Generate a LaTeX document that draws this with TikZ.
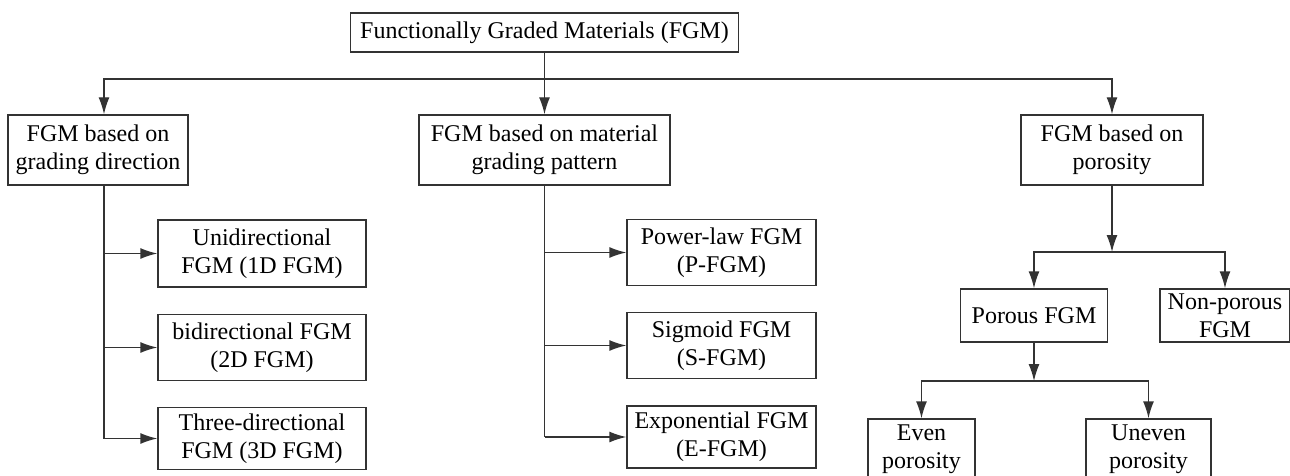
\documentclass[tikz,border=0pt]{standalone}
\usepackage{xcolor}
\usepackage{tikz}
\usepackage{fontspec}
\setmainfont{Liberation Serif}
\usetikzlibrary{arrows.meta}

\tikzset{
    fgmbox/.style={draw=black!80, line width=1.4pt, inner sep=0pt, align=center,
                   font=\fontsize{24}{28}\selectfont},
    link/.style={draw=black!80, line width=1.4pt},
    arr/.style={link, -{Latex[length=17pt,width=11pt]}}
}

\begin{document}
\begin{tikzpicture}[x=1pt, y=-1pt]
                \useasboundingbox (0,0) rectangle (1290,476);

                % Root
                \node[fgmbox, minimum width=388, minimum height=39] (fgm) at (544.5,32.5)
                    {Functionally Graded Materials (FGM)};

                % First level
                \node[fgmbox, minimum width=180, minimum height=70] (direction) at (98,150)
                    {FGM based on\\grading direction};
                \node[fgmbox, minimum width=251, minimum height=70] (pattern) at (544.5,150)
                    {FGM based on material\\grading pattern};
                \node[fgmbox, minimum width=182, minimum height=70] (porosity) at (1112,150)
                    {FGM based on\\porosity};

                % Grading direction
                \node[fgmbox, minimum width=208, minimum height=67] (unidir) at (262,253.5)
                    {Unidirectional\\FGM (1D FGM)};
                \node[fgmbox, minimum width=208, minimum height=66] (bidir) at (262,347.5)
                    {bidirectional FGM\\(2D FGM)};
                \node[fgmbox, minimum width=208, minimum height=62] (threedir) at (262,438.5)
                    {Three-directional\\FGM (3D FGM)};

                % Grading pattern
                \node[fgmbox, minimum width=189, minimum height=66] (powerlaw) at (721.5,252.5)
                    {Power-law FGM\\(P-FGM)};
                \node[fgmbox, minimum width=189, minimum height=66] (sigmoid) at (721.5,345.5)
                    {Sigmoid FGM\\(S-FGM)};
                \node[fgmbox, minimum width=189, minimum height=62] (exponential) at (721.5,437)
                    {Exponential FGM\\(E-FGM)};

                % Porosity
                \node[fgmbox, minimum width=147, minimum height=53] (porous) at (1034,315.5)
                    {Porous FGM};
                \node[fgmbox, minimum width=130, minimum height=53] (nonporous) at (1225,315.5)
                    {Non-porous\\FGM};
                \node[fgmbox, minimum width=107, minimum height=60] (even) at (921.5,449)
                    {Even\\porosity};
                \node[fgmbox, minimum width=125, minimum height=60] (uneven) at (1148.5,449)
                    {Uneven\\porosity};

                % Connectors
                \coordinate (split) at (544.5,79);
                \coordinate (dtrunk) at (104,185);
                \draw[link] (fgm.south) -- (split);
                \draw[arr] (split) -| (dtrunk |- direction.north);
                \draw[arr] (split) -- (pattern.north);
                \draw[arr] (split) -| (porosity.north);

                \draw[link] (dtrunk) -- (dtrunk |- threedir.west);
                \draw[arr] (dtrunk |- unidir.west) -- (unidir.west);
                \draw[arr] (dtrunk |- bidir.west) -- (bidir.west);
                \draw[arr] (dtrunk |- threedir.west) -- (threedir.west);

                \draw[link] (pattern.south) -- (pattern.south |- exponential.west);
                \draw[arr] (pattern.south |- powerlaw.west) -- (powerlaw.west);
                \draw[arr] (pattern.south |- sigmoid.west) -- (sigmoid.west);
                \draw[arr] (pattern.south |- exponential.west) -- (exponential.west);

                \coordinate (psplit) at (1112,252);
                \draw[arr] (porosity.south) -- (psplit);
                \draw[arr] (psplit) -| (porous.north);
                \draw[arr] (psplit) -| (nonporous.north);

                \coordinate (esplit) at (1034,381);
                \draw[arr] (porous.south) -- (esplit);
                \draw[arr] (esplit) -| (even.north);
                \draw[arr] (esplit) -| (uneven.north);
            \end{tikzpicture}
\end{document}
